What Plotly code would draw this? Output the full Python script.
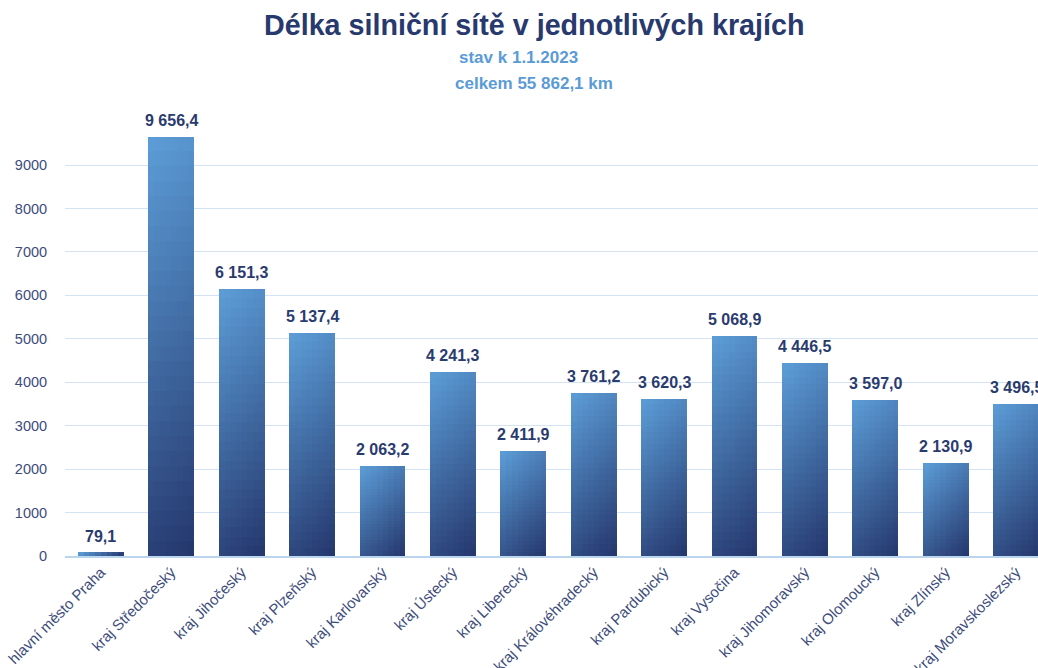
import plotly.graph_objects as go

categories = ["hlavní město Praha", "kraj Středočeský", "kraj Jihočeský", "kraj Plzeňský",
              "kraj Karlovarský", "kraj Ústecký", "kraj Liberecký", "kraj Královéhradecký",
              "kraj Pardubický", "kraj Vysočina", "kraj Jihomoravský", "kraj Olomoucký",
              "kraj Zlínský", "kraj Moravskoslezský"]
values = [79.1, 9656.4, 6151.3, 5137.4, 2063.2, 4241.3, 2411.9, 3761.2,
          3620.3, 5068.9, 4446.5, 3597.0, 2130.9, 3496.5]
ytick_vals = [0, 1000, 2000, 3000, 4000, 5000, 6000, 7000, 8000, 9000]

TITLE = "Délka silniční sítě v jednotlivých krajích"
SUB1 = "stav k 1.1.2023"
SUB2 = "celkem 55 862,1 km"

def fmt(v):
    s = f"{v:,.1f}"
    return s.replace(",", " ").replace(".", ",")

labels = [fmt(v) for v in values]

W, H = 1038, 668
ML, MR, MT, MB = 65, 0, 130, 112
XR = [-0.51, 13.31]
YR = [0, 9806]
plot_w = W - ML - MR
plot_h = H - MT - MB
px_x = plot_w / (XR[1] - XR[0])
px_y = plot_h / (YR[1] - YR[0])

BAR_W = 0.65
NC, NR = 8, 28
light = (93, 158, 216)
dark = (36, 54, 108)

def mix(t):
    t = max(0.0, min(1.0, t))
    return "rgb(%d,%d,%d)" % tuple(round(light[i] + (dark[i] - light[i]) * t) for i in range(3))

idx = list(range(len(categories)))
fig = go.Figure()
bw_px = BAR_W * px_x
for k in range(NC):
    u = (k + 0.5) / NC
    off = -BAR_W / 2 + k * BAR_W / NC
    wid = BAR_W / NC + (0.012 if k < NC - 1 else 0)
    for n in range(NR):
        heights, bases, cols = [], [], []
        for v in values:
            hpx = v * px_y
            depth = (1 - (n + 0.5) / NR) * hpx
            t = (u * bw_px + depth) / (bw_px + hpx)
            seg = v / NR
            bases.append(seg * n)
            heights.append(seg * (1.35 if n < NR - 1 else 1.0))
            cols.append(mix(t))
        fig.add_trace(go.Bar(x=idx, y=heights, base=bases, offset=off, width=wid,
                             marker=dict(color=cols, line=dict(width=0)),
                             hoverinfo="skip", showlegend=False))

def ypaper(py):
    return (H - MB - py) / plot_h

def xpaper(px):
    return (px - ML) / plot_w

annotations = [
    dict(text=lab, x=i, y=v, xref="x", yref="y", showarrow=False,
         xanchor="center", yanchor="bottom", yshift=6,
         font=dict(family="Liberation Sans, Arial", size=16, color="#2a3b6e", weight="bold"))
    for i, v, lab in zip(idx, values, labels)
]
annotations += [
    dict(text=TITLE, x=xpaper(534), y=ypaper(25), xref="paper", yref="paper",
         showarrow=False, xanchor="center", yanchor="middle",
         font=dict(family="Liberation Sans, Arial", size=28.7, color="#28396d", weight="bold")),
    dict(text=SUB1, x=xpaper(518), y=ypaper(57), xref="paper", yref="paper",
         showarrow=False, xanchor="center", yanchor="middle",
         font=dict(family="Liberation Sans, Arial", size=17, color="#5b9bd5", weight="bold")),
    dict(text=SUB2, x=xpaper(534), y=ypaper(83), xref="paper", yref="paper",
         showarrow=False, xanchor="center", yanchor="middle",
         font=dict(family="Liberation Sans, Arial", size=17, color="#5b9bd5", weight="bold")),
]

fig.update_layout(
    width=W, height=H, barmode="overlay", bargap=0,
    margin=dict(l=ML, r=MR, t=MT, b=MB, autoexpand=False),
    paper_bgcolor="white", plot_bgcolor="white",
    font=dict(family="Liberation Sans, Arial", color="#3d4c7c"),
    xaxis=dict(range=XR, tickmode="array", tickvals=idx, ticktext=categories,
               tickangle=-45, tickfont=dict(size=15, color="#3d4c7c"),
               showgrid=False, showline=True, linecolor="#bcd5ee", linewidth=1.5,
               ticks="", zeroline=False, fixedrange=True),
    yaxis=dict(range=YR, tickmode="array", tickvals=ytick_vals,
               tickfont=dict(size=14.5, color="#3d4c7c"),
               showgrid=True, gridcolor="#d3e3f4", gridwidth=1,
               ticks="outside", ticklen=14, tickcolor="rgba(0,0,0,0)",
               zeroline=False, showline=False, fixedrange=True),
    annotations=annotations,
)

fig.write_html("out.html")
